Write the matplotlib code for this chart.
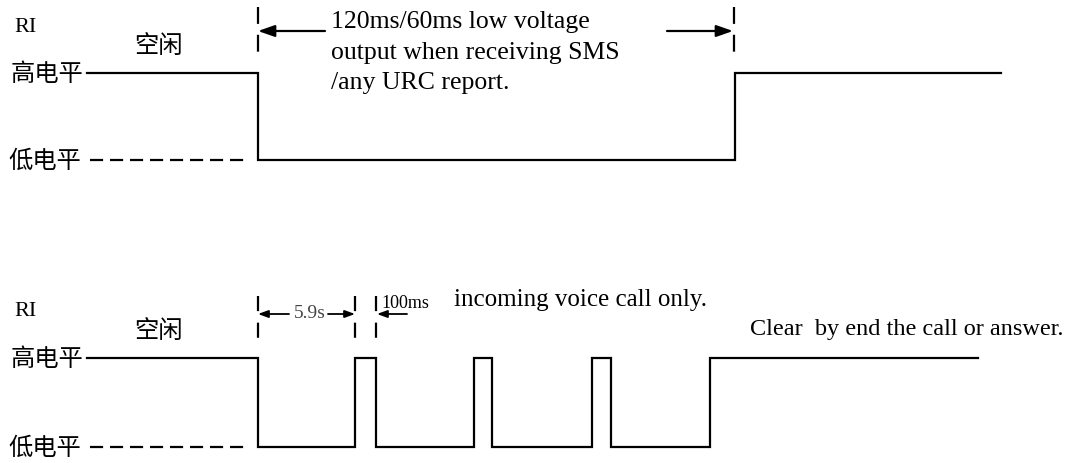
import matplotlib.pyplot as plt

# Waveform edges (x positions, in figure pixels) and levels (y, in pixels)
HIGH_TOP, LOW_TOP = 74, 161
HIGH_BOT, LOW_BOT = 359, 448

top_x = [87, 258, 258, 735, 735, 1001]
top_y = [HIGH_TOP, HIGH_TOP, LOW_TOP, LOW_TOP, HIGH_TOP, HIGH_TOP]

bot_x = [87, 258, 258, 355, 355, 376, 376, 474, 474, 492, 492,
         592, 592, 611, 611, 710, 710, 978]
bot_y = [HIGH_BOT, HIGH_BOT, LOW_BOT, LOW_BOT, HIGH_BOT, HIGH_BOT, LOW_BOT,
         LOW_BOT, HIGH_BOT, HIGH_BOT, LOW_BOT, LOW_BOT, HIGH_BOT, HIGH_BOT,
         LOW_BOT, LOW_BOT, HIGH_BOT, HIGH_BOT]

level_labels = ['高电平', '低电平']
idle_label = '空闲'
sms_lines = ['120ms/60ms low voltage', 'output when receiving SMS',
             '/any URC report.']
call_text = 'incoming voice call only.'
clear_text = 'Clear  by end the call or answer.'

cjk = ['Noto Sans CJK SC', 'DejaVu Sans']
serif = 'Liberation Serif'
lw = 1.6

fig = plt.figure(figsize=(10.68, 4.64), dpi=100)
ax = fig.add_axes([0, 0, 1, 1])
ax.set_xlim(0, 1068)
ax.set_ylim(464, 0)
ax.axis('off')

# waveforms
ax.plot(top_x, top_y, color='black', lw=lw, solid_joinstyle='miter')
ax.plot(bot_x, bot_y, color='black', lw=lw, solid_joinstyle='miter')

# dashed low-level guides
for y in (LOW_TOP, LOW_BOT):
    ax.plot([90, 250], [y, y], color='black', lw=lw, dashes=(5.9, 3.1))

# dashed vertical markers
for x in (258, 734):
    ax.plot([x, x], [8, 54], color='black', lw=lw, dashes=(7.6, 4.9))
for x in (258, 355, 376):
    ax.plot([x, x], [297, 341], color='black', lw=lw, dashes=(6.8, 5.2))

# labels
for base, hi, lo in ((0, HIGH_TOP, LOW_TOP), (285, HIGH_BOT, LOW_BOT)):
    ax.text(14, base + 27, 'RI', family=serif, fontsize=16, va='center')
    ax.text(134, base + 46, idle_label, family=cjk, fontsize=17.5, va='center')
    ax.text(83, hi, level_labels[0], family=cjk, fontsize=17.5,
            va='center', ha='right')
    ax.text(81, lo, level_labels[1], family=cjk, fontsize=17.5,
            va='center', ha='right')

arrow = dict(arrowstyle='-|>,head_length=1.0,head_width=0.35',
             color='black', lw=lw, shrinkA=0, shrinkB=0)
small_arrow = dict(arrowstyle='-|>,head_length=0.6,head_width=0.22',
                   color='black', lw=1.3, shrinkA=0, shrinkB=0)

# top annotation
ax.annotate('', xy=(258, 32), xytext=(325, 32), arrowprops=arrow)
ax.annotate('', xy=(733, 32), xytext=(667, 32), arrowprops=arrow)
for i, line in enumerate(sms_lines):
    ax.text(331, 22 + 30.5 * i, line, family=serif, fontsize=18.5, va='center')

# bottom annotations
ax.annotate('', xy=(258, 315), xytext=(289, 315), arrowprops=small_arrow)
ax.annotate('', xy=(355, 315), xytext=(328, 315), arrowprops=small_arrow)
ax.text(310, 314, '5.9s', family=serif, fontsize=14,
        color='#444444', va='center', ha='center')
ax.annotate('', xy=(377, 315), xytext=(407, 315), arrowprops=small_arrow)
ax.text(381, 304, '100ms', family=serif, fontsize=13, va='center')
ax.text(454, 300, call_text, family=serif, fontsize=18, va='center')
ax.text(750, 330, clear_text, family=serif, fontsize=17.5, va='center')

fig.savefig('out.png', dpi=100)
